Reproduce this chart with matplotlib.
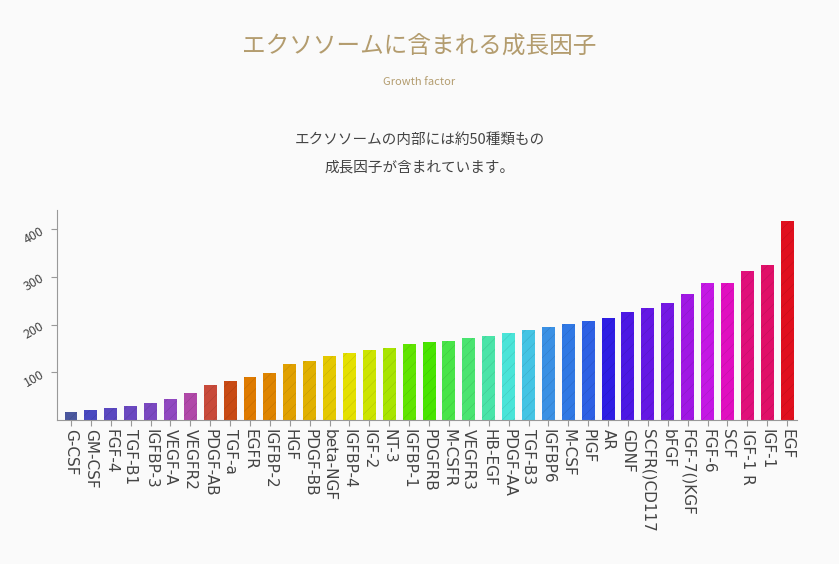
import matplotlib.pyplot as plt
import matplotlib as mpl

mpl.rcParams["font.family"] = ["Noto Sans CJK JP", "DejaVu Sans"]
mpl.rcParams["hatch.linewidth"] = 0.4

factors = ["G-CSF", "GM-CSF", "FGF-4", "TGF-B1", "IGFBP-3", "VEGF-A", "VEGFR2",
           "PDGF-AB", "TGF-a", "EGFR", "IGFBP-2", "HGF", "PDGF-BB", "beta-NGF",
           "IGFBP-4", "IGF-2", "NT-3", "IGFBP-1", "PDGFRB", "M-CSFR", "VEGFR3",
           "HB-EGF", "PDGF-AA", "TGF-B3", "IGFBP6", "M-CSF", "PIGF", "AR", "GDNF",
           "SCFR()CD117", "bFGF", "FGF-7()KGF", "FGF-6", "SCF", "IGF-1 R", "IGF-1", "EGF"]
values = [18, 22, 26, 30, 36, 44, 56, 74, 83, 91, 99, 117, 125, 135, 141, 147, 151,
          159, 163, 167, 173, 177, 183, 189, 195, 201, 207, 215, 226, 236, 246, 264,
          288, 288, 312, 326, 417]
colors = ["#4a579e", "#4848c0", "#5a48c0", "#6a48c0", "#7a48c0", "#9048c0", "#b048a8",
          "#c84a3a", "#c84a14", "#de7a00", "#de8400", "#e0a000", "#e0b000", "#e4c800",
          "#e4e000", "#cce400", "#a8e400", "#60e400", "#48e400", "#48e448", "#4ae470",
          "#4ae4a8", "#4ae4d8", "#44c4e4", "#3a90e4", "#3078e4", "#2e60e4", "#2e1ee4",
          "#4c18e4", "#6418e4", "#7418e4", "#a018e4", "#c418e4", "#e010c0", "#e0107a",
          "#e01068", "#e0101e"]
yticks = [100, 200, 300, 400]

fig = plt.figure(figsize=(8.39, 5.64), dpi=100, facecolor="#fafafa")
ax = fig.add_axes([0.068, 0.255, 0.882, 0.372], facecolor="#fafafa")

x = range(len(factors))
ax.bar(x, values, width=0.65, color=colors, hatch="///", edgecolor=(0, 0, 0, 0.12), linewidth=0)
ax.set_xlim(-0.7, len(factors) - 0.5)
ax.set_ylim(0, 440)
ax.set_xticks(list(x))
ax.set_xticklabels(factors, rotation=-90, fontsize=11, color="#444444", family="DejaVu Sans")
ax.set_yticks(yticks)
ax.set_yticklabels([str(t) for t in yticks], rotation=30, fontsize=9, color="#444444")
for s in ["top", "right"]:
    ax.spines[s].set_visible(False)
for s in ["left", "bottom"]:
    ax.spines[s].set_color("#999999")
ax.tick_params(axis="x", length=4, color="#999999", pad=2)
ax.tick_params(axis="y", length=4, color="#999999")

fig.text(0.5, 0.905, "エクソソームに含まれる成長因子", ha="center", fontsize=17, color="#b39c6e")
fig.text(0.5, 0.85, "Growth factor", ha="center", fontsize=8, color="#b39c6e")
fig.text(0.5, 0.745, "エクソソームの内部には約50種類もの", ha="center", fontsize=10.5, color="#444444")
fig.text(0.5, 0.695, "成長因子が含まれています。", ha="center", fontsize=10.5, color="#444444")

fig.savefig("out.png", dpi=100, facecolor=fig.get_facecolor())
